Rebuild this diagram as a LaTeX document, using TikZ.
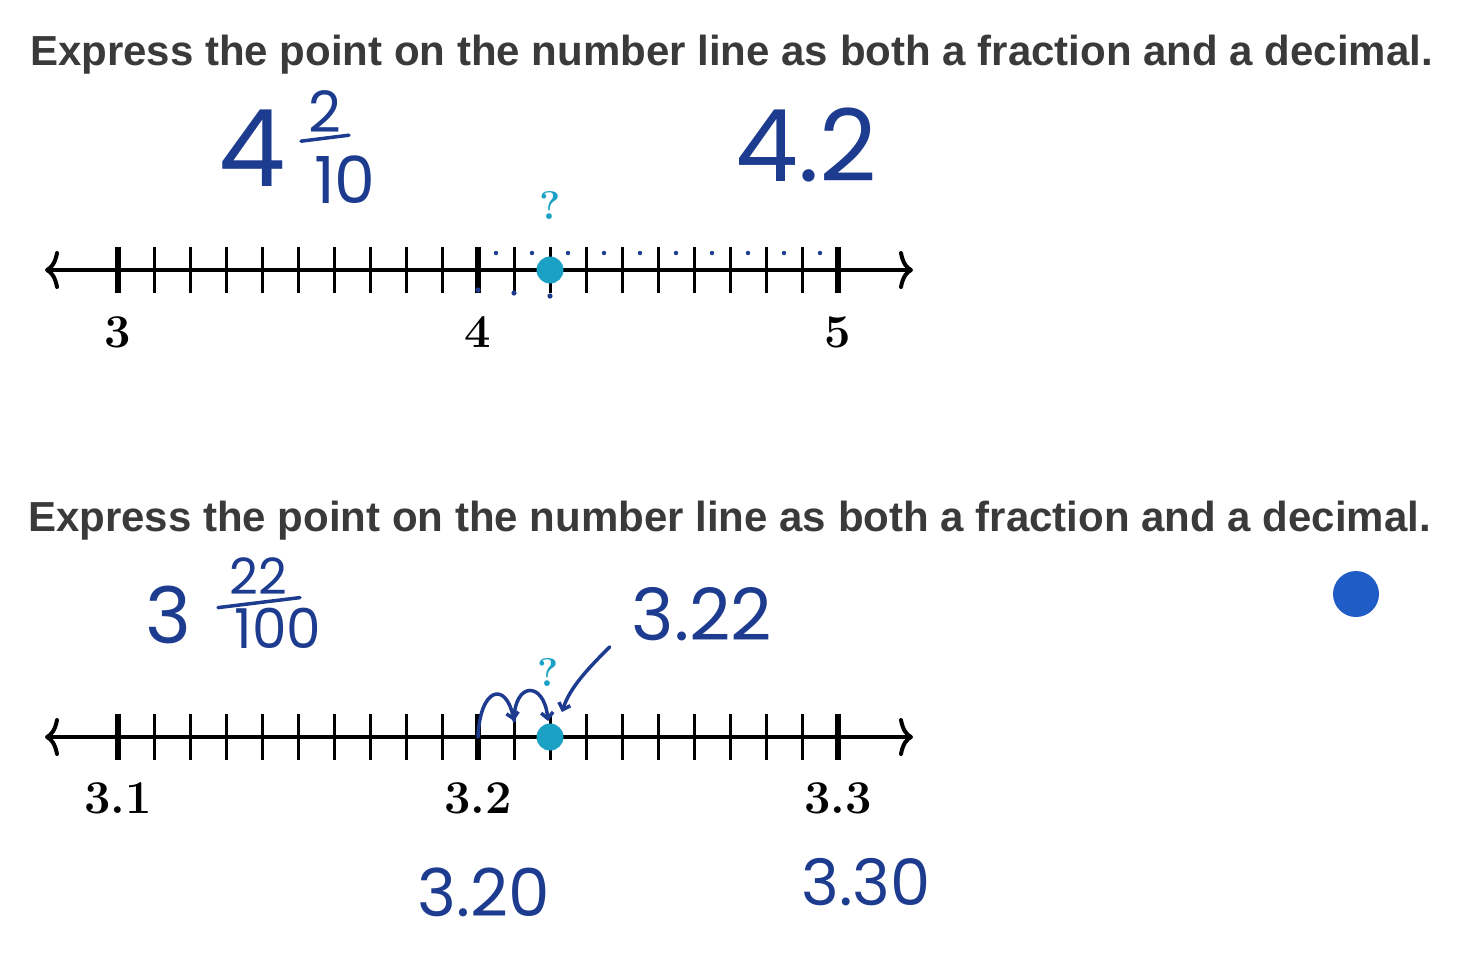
\documentclass[tikz,border=0pt]{standalone}
\usepackage{fontspec}
\newfontfamily\titlefont{Liberation Sans}
\newfontfamily\handfont{Poppins}
\usetikzlibrary{arrows.meta}

\definecolor{titlegray}{HTML}{3A3A3A}
\definecolor{handblue}{HTML}{1D3C8F}
\definecolor{pointcyan}{HTML}{1BA1C3}
\definecolor{dotblue}{HTML}{1F5CC5}

\begin{document}
\begin{tikzpicture}[
        x=1pt, y=-1pt,
        every node/.style={inner sep=0pt},
        numline/.style={line width=4pt,
            {Computer Modern Rightarrow[length=14pt,width=38pt]}-{Computer Modern Rightarrow[length=14pt,width=38pt]}},
        minortick/.style={line width=3pt},
        majortick/.style={line width=6.5pt},
        ticklabel/.style={font=\fontsize{47}{47}\selectfont\bfseries},
        question/.style={text=pointcyan, font=\fontsize{40}{40}\selectfont\bfseries},
        ptdot/.style={circle, fill=pointcyan, minimum size=27pt},
        hand/.style={text=handblue, font=\handfont\fontsize{#1}{#1}\selectfont},
        handline/.style={draw=handblue, line width=3.5pt, line cap=round},
        hop/.style={handline, -{Straight Barb[length=6pt,width=12pt]}},
        annot/.style={fill=handblue},
        title/.style={anchor=west, text=titlegray, font=\titlefont\bfseries\fontsize{42}{42}\selectfont}
    ]
    \useasboundingbox (0,0) rectangle (1462,954);

    % First question
    \node[title] (title1) at (30,55)
        {Express the point on the number line as both a fraction and a decimal.};

    \node[hand=107] (mixed1) at (252,148) {4};
    \node[hand=57] (num1) at (325,112) {2};
    \node[hand=65] (den1) at (345,180) {10};
    \draw[handline] ([xshift=-24pt,yshift=-8pt]num1.south) -- ([xshift=24pt,yshift=-2pt]num1.south);
    \node[hand=100] (dec1) at (806,145) {4.2};

    \begin{scope}[shift={(0,270)}]
        \draw[numline] (45,0) -- (913,0);
        \foreach \i in {0,...,20}
            \coordinate (a\i) at (118+36*\i,0);
        \foreach \i in {0,...,20}
            \draw[minortick] (118+36*\i,-23) -- (118+36*\i,23);
        \foreach \i in {0,10,20}
            \draw[majortick] (118+36*\i,-23) -- (118+36*\i,23);

        % counting dots
        \foreach \i in {0,...,9}
            \fill[annot] (496+36*\i,-17) circle (2.2pt);
        \foreach \i in {0,1,2}
            \fill[annot] (478+36*\i,20+3*\i) circle (2.6pt);

        \node[ticklabel] (l3) at (118,62) {3};
        \node[ticklabel] (l4) at (478,62) {4};
        \node[ticklabel] (l5) at (838,62) {5};

        \node[ptdot] (p1) at (a12) {};
        \node[question] (q1) at (550,-65) {?};
    \end{scope}


    % Second question
    \node[title] (title2) at (28,521)
        {Express the point on the number line as both a fraction and a decimal.};

    \node[hand=78] (mixed2) at (168,615) {3};
    \node[hand=50] (num2) at (258,576) {22};
    \node[hand=55] (den2) at (278,628) {100};
    \draw[handline] ([xshift=-40pt,yshift=-13pt]num2.south) -- ([xshift=42pt,yshift=-3pt]num2.south);
    \node[hand=72] (dec2) at (702,614) {3.22};

    \node[circle, fill=dotblue, minimum size=46pt] (cursor) at (1356,594) {};

    \begin{scope}[shift={(0,737)}]
        \draw[numline] (45,0) -- (913,0);
        \foreach \i in {0,...,20}
            \coordinate (b\i) at (118+36*\i,0);
        \foreach \i in {0,...,20}
            \draw[minortick] (118+36*\i,-23) -- (118+36*\i,23);
        \foreach \i in {0,10,20}
            \draw[majortick] (118+36*\i,-23) -- (118+36*\i,23);

        \node[ticklabel] (m31) at (118,61) {3.1};
        \node[ticklabel] (m32) at (478,61) {3.2};
        \node[ticklabel] (m33) at (838,61) {3.3};

        \node[ptdot] (p2) at (b12) {};
        \node[question] (q2) at (548,-65) {?};

        % hops of one hundredth
        \coordinate (land1) at (514,-16);
        \coordinate (land2) at (548,-16);
        \coordinate (tip2) at (562,-25);
        \draw[hop] (b10) .. controls +(2,-50) and +(-8,-40) .. (land1);
        \draw[hop] (land1) .. controls +(0,-40) and +(-4,-40) .. (land2);
        \draw[hop] ([shift={(-22,6)}]dec2.south west) .. controls +(-20,20) and +(8,-25) .. (tip2);
    \end{scope}

    \node[hand=66] (hund1) at (484,892) {3.20};
    \node[hand=64] (hund2) at (866,882) {3.30};

\end{tikzpicture}
\end{document}
